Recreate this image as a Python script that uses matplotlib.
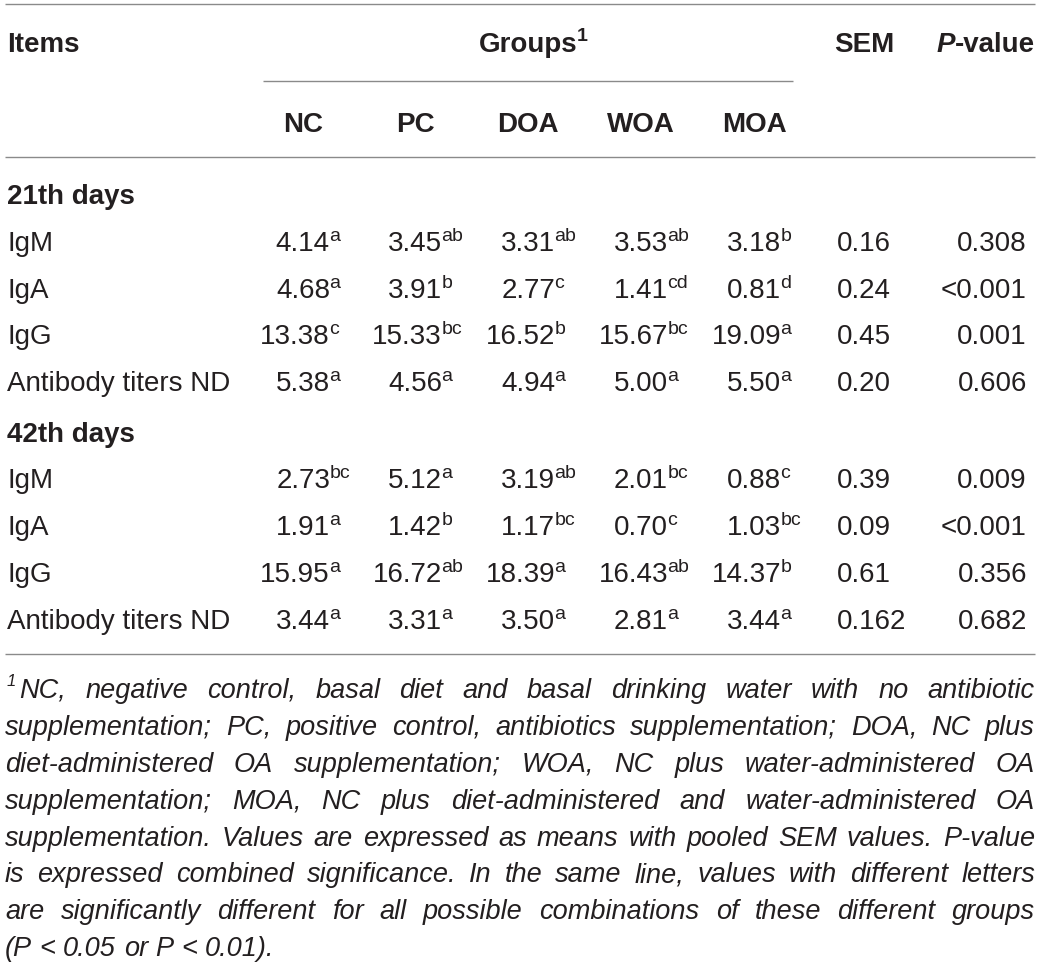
import matplotlib
matplotlib.use("Agg")
import matplotlib.pyplot as plt

# --- table content ---
groups = ["NC", "PC", "DOA", "WOA", "MOA"]
periods = ["21th days", "42th days"]
items = ["IgM", "IgA", "IgG", "Antibody titers ND"]

d21_means = [["4.14", "3.45", "3.31", "3.53", "3.18"],
             ["4.68", "3.91", "2.77", "1.41", "0.81"],
             ["13.38", "15.33", "16.52", "15.67", "19.09"],
             ["5.38", "4.56", "4.94", "5.00", "5.50"]]
d21_letters = [["a", "ab", "ab", "ab", "b"],
               ["a", "b", "c", "cd", "d"],
               ["c", "bc", "b", "bc", "a"],
               ["a", "a", "a", "a", "a"]]
d21_sem = ["0.16", "0.24", "0.45", "0.20"]
d21_p = ["0.308", "<0.001", "0.001", "0.606"]

d42_means = [["2.73", "5.12", "3.19", "2.01", "0.88"],
             ["1.91", "1.42", "1.17", "0.70", "1.03"],
             ["15.95", "16.72", "18.39", "16.43", "14.37"],
             ["3.44", "3.31", "3.50", "2.81", "3.44"]]
d42_letters = [["bc", "a", "ab", "bc", "c"],
               ["a", "b", "bc", "c", "bc"],
               ["a", "ab", "a", "ab", "b"],
               ["a", "a", "a", "a", "a"]]
d42_sem = ["0.39", "0.09", "0.61", "0.162"]
d42_p = ["0.009", "<0.001", "0.356", "0.682"]

footnote_lines = [
    "NC, negative control, basal diet and basal drinking water with no antibiotic",
    "supplementation; PC, positive control, antibiotics supplementation; DOA, NC plus",
    "diet-administered OA supplementation; WOA, NC plus water-administered OA",
    "supplementation; MOA, NC plus diet-administered and water-administered OA",
    "supplementation. Values are expressed as means with pooled SEM values. P-value",
    "is expressed combined significance. In the same line, values with different letters",
    "are significantly different for all possible combinations of these different groups",
    "(P < 0.05 or P < 0.01).",
]

# --- layout ---
W, H = 1043, 970
FONT = "Liberation Sans"
INK = "#231f20"
RULE = "#8a8a8a"
SIZE = 20
SUP = 14
left, right = 5, 1035
col_center = [303, 415, 528, 641, 754]
num_right = [c + 27 for c in col_center]
sem_left = 837
p_right = 1027

fig = plt.figure(figsize=(W / 100, H / 100), dpi=100)
ax = fig.add_axes([0, 0, 1, 1])
ax.set_xlim(0, W)
ax.set_ylim(H, 0)
ax.axis("off")
rend = fig.canvas.get_renderer()


def txt(x, y, s, **kw):
    opts = dict(fontsize=SIZE, family=FONT, color=INK, va="baseline", ha="left")
    opts.update(kw)
    return ax.text(x, y, s, **opts)


def width(t):
    return t.get_window_extent(renderer=rend).width


def rule(y, x0=left, x1=right):
    ax.plot([x0, x1], [y, y], color=RULE, lw=1.0, solid_capstyle="butt")


# rules
rule(5)
rule(82, 263, 793)
rule(158)
rule(655)

# header
txt(7, 52, "Items", fontweight="bold")
g = txt(528, 52, "Groups", fontweight="bold", ha="center")
gw = width(g)
txt(528 + gw / 2 - 1, 41, "1", fontweight="bold", fontsize=SUP)
txt(864, 52, "SEM", fontweight="bold", ha="center")
pv = txt(1035, 52, "-value", fontweight="bold", ha="right")
txt(1035 - width(pv), 52, "P", fontweight="bold", style="italic", ha="right")
for name, cx in zip(groups, col_center):
    txt(cx, 132, name, fontweight="bold", ha="center")


def block(title, y_title, ys, means, letters, sem, pvals):
    txt(7, y_title, title, fontweight="bold")
    for i, y in enumerate(ys):
        txt(7, y, items[i])
        for j in range(len(groups)):
            txt(num_right[j], y, means[i][j], ha="right")
            txt(num_right[j] - 0.5, y - 10, letters[i][j], fontsize=SUP)
        txt(sem_left, y, sem[i])
        txt(p_right, y, pvals[i], ha="right")


block(periods[0], 204, [251, 298, 344, 391], d21_means, d21_letters, d21_sem, d21_p)
block(periods[1], 442, [488, 535, 582, 629], d42_means, d42_letters, d42_sem, d42_p)

# footnote, justified
FN = 19.5
sup1 = txt(7, 686, "1", fontsize=12, style="italic")
x_first = 7 + width(sup1) + 3
for k, line in enumerate(footnote_lines):
    y = 698 + k * 36.9
    x0 = x_first if k == 0 else left
    words = line.split(" ")
    ts = [txt(0, y, w, fontsize=FN, style="italic") for w in words]
    ws = [width(t) for t in ts]
    if k < len(footnote_lines) - 1:
        gap = (right - x0 - sum(ws)) / (len(ts) - 1)
    else:
        gap = 0.28 * FN * 100 / 72
    x = x0
    for t, w in zip(ts, ws):
        t.set_x(x)
        x += w + gap

fig.savefig("out.png", dpi=100)
